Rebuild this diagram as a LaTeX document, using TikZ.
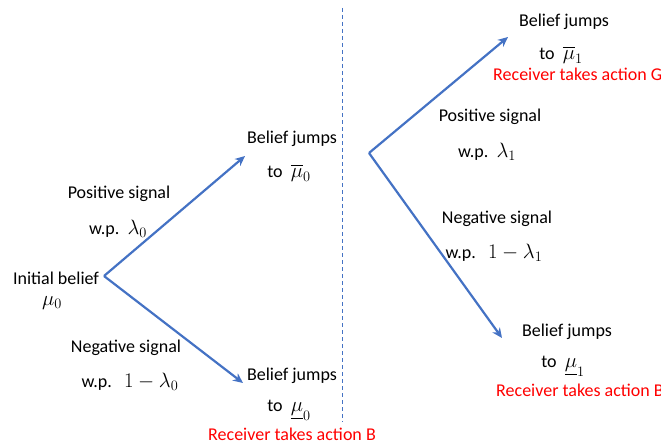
\documentclass[tikz,border=0pt]{standalone}
\usepackage{amsmath}
\usepackage{fontspec}
\setmainfont{Carlito}
\usepackage{xcolor}
\usetikzlibrary{arrows.meta}
\definecolor{arrowblue}{RGB}{68,114,196}
\newcommand{\mth}[1]{{\fontsize{21}{24}\selectfont$#1$}}

\begin{document}
\begin{tikzpicture}[x=1pt,y=-1pt,font=\fontsize{18}{22}\selectfont,>={Stealth[length=10pt,width=9pt]}]
\useasboundingbox (0,0) rectangle (661,444);
\clip (0,0) rectangle (661,444);
% branch points and arrow ends
\coordinate (s0) at (104,276);
\coordinate (g0) at (245,156);
\coordinate (b0) at (243,383);
\coordinate (s1) at (369,153);
\coordinate (g1) at (508,37);
\coordinate (b1) at (502,338);
\coordinate (top) at (342,8);
\coordinate (bot) at (342,422);
\draw[arrowblue,line width=1pt,dash pattern=on 4pt off 3pt] (top) -- (bot);
\foreach \a/\b in {s0/g0, s0/b0, s1/g1, s1/b1}
  \draw[->,arrowblue,line width=2.2pt] (\a) -- (\b);
% black labels
\foreach \n/\x/\y/\t in {init/56/278/{Initial belief}, mu0/52/303/{\mth{\mu_0}},
  pos0/119/194/{Positive signal}, wpg0/118/229/{w.p.\ \ \mth{\lambda_0}},
  neg0/126/348/{Negative signal}, wpb0/130/382/{w.p.\ \ \ \mth{1-\lambda_0}},
  bj0/292/139/{Belief jumps}, tg0/289/173/{to\ \ \mth{\overline{\mu}_0}},
  bjb0/292/376/{Belief jumps}, tb0/289/410/{to\ \ \mth{\underline{\mu}_0}},
  bj1/564/22/{Belief jumps}, tg1/561/55/{to\ \ \mth{\overline{\mu}_1}},
  pos1/490/117/{Positive signal}, wpg1/487/152/{w.p.\ \ \mth{\lambda_1}},
  neg1/497/219/{Negative signal}, wpb1/494/253/{w.p.\ \ \ \mth{1-\lambda_1}},
  bjb1/567/332/{Belief jumps}, tb1/563/366/{to\ \ \mth{\underline{\mu}_1}}}
  \node[inner sep=0pt] (\n) at (\x,\y) {\t};
% actions
\node[red,inner sep=0pt] (actb0) at (292,434) {Receiver takes action B};
\node[red,inner sep=0pt,anchor=west] (actg1) at (493,74) {Receiver takes action G};
\node[red,inner sep=0pt,anchor=west] (actb1) at (496,390) {Receiver takes action B};
\end{tikzpicture}
\end{document}
